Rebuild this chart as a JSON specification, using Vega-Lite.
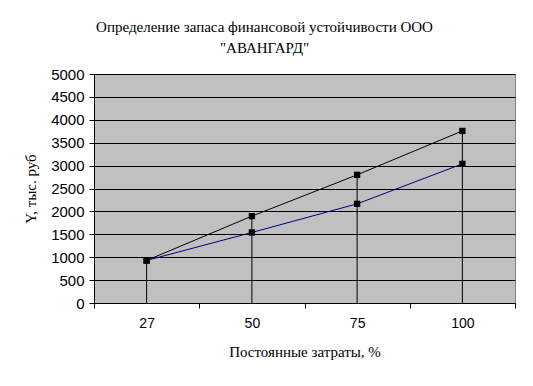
{
  "$schema": "https://vega.github.io/schema/vega-lite/v6.json",
  "width": 421,
  "height": 229,
  "autosize": {"type": "none"},
  "padding": {"left": 94, "top": 74, "right": 18, "bottom": 83},
  "background": "white",
  "config": {
    "view": {"fill": "#C0C0C0", "stroke": "#808080", "strokeWidth": 1}
  },
  "title": {
    "text": ["Определение запаса финансовой устойчивости ООО", "\"АВАНГАРД\""],
    "font": "Liberation Serif",
    "fontSize": 15,
    "fontWeight": "normal",
    "color": "black",
    "anchor": "middle",
    "dx": -40,
    "offset": 11,
    "lineHeight": 21
  },
  "data": {
    "values": [
      {"x": "27", "s": "Ряд1", "y": 929},
      {"x": "50", "s": "Ряд1", "y": 1897},
      {"x": "75", "s": "Ряд1", "y": 2798},
      {"x": "100", "s": "Ряд1", "y": 3757},
      {"x": "27", "s": "Ряд2", "y": 929},
      {"x": "50", "s": "Ряд2", "y": 1540},
      {"x": "75", "s": "Ряд2", "y": 2165},
      {"x": "100", "s": "Ряд2", "y": 3038}
    ]
  },
  "encoding": {
    "x": {
      "field": "x",
      "type": "ordinal",
      "sort": ["27", "50", "75", "100"],
      "scale": {"type": "band", "paddingInner": 0, "paddingOuter": 0},
      "axis": {
        "title": "Постоянные затраты, %",
        "titleFont": "Liberation Serif",
        "titleFontSize": 15,
        "titleFontWeight": "normal",
        "titleColor": "black",
        "titlePadding": 14,
        "labelFont": "Liberation Sans",
        "labelFontSize": 14,
        "labelColor": "black",
        "labelAngle": 0,
        "labelPadding": 8,
        "tickBand": "extent",
        "tickSize": 5,
        "tickColor": "black",
        "domainColor": "black",
        "grid": false
      }
    },
    "y": {
      "field": "y",
      "type": "quantitative",
      "scale": {"domain": [0, 5000], "nice": false},
      "axis": {
        "title": "Y, тыс. руб",
        "titleFont": "Liberation Serif",
        "titleFontSize": 15,
        "titleFontWeight": "normal",
        "titleColor": "black",
        "titlePadding": 12,
        "values": [0, 500, 1000, 1500, 2000, 2500, 3000, 3500, 4000, 4500, 5000],
        "format": "d",
        "labelFont": "Liberation Sans",
        "labelFontSize": 15,
        "labelColor": "black",
        "labelPadding": 5,
        "tickSize": 5,
        "tickColor": "black",
        "domainColor": "black",
        "grid": true,
        "gridColor": "black",
        "gridOpacity": 1,
        "gridWidth": 1
      }
    }
  },
  "layer": [
    {
      "transform": [{"filter": "datum.s === 'Ряд1'"}],
      "mark": {"type": "rule", "color": "black", "strokeWidth": 1},
      "encoding": {"y2": {"datum": 0}}
    },
    {
      "mark": {"type": "line", "strokeWidth": 1},
      "encoding": {
        "color": {
          "field": "s",
          "type": "nominal",
          "scale": {"domain": ["Ряд1", "Ряд2"], "range": ["#000000", "#000080"]},
          "legend": null
        }
      }
    },
    {
      "mark": {"type": "point", "shape": "square", "filled": true, "color": "black", "opacity": 1, "size": 40},
      "encoding": {"detail": {"field": "s"}}
    }
  ]
}
